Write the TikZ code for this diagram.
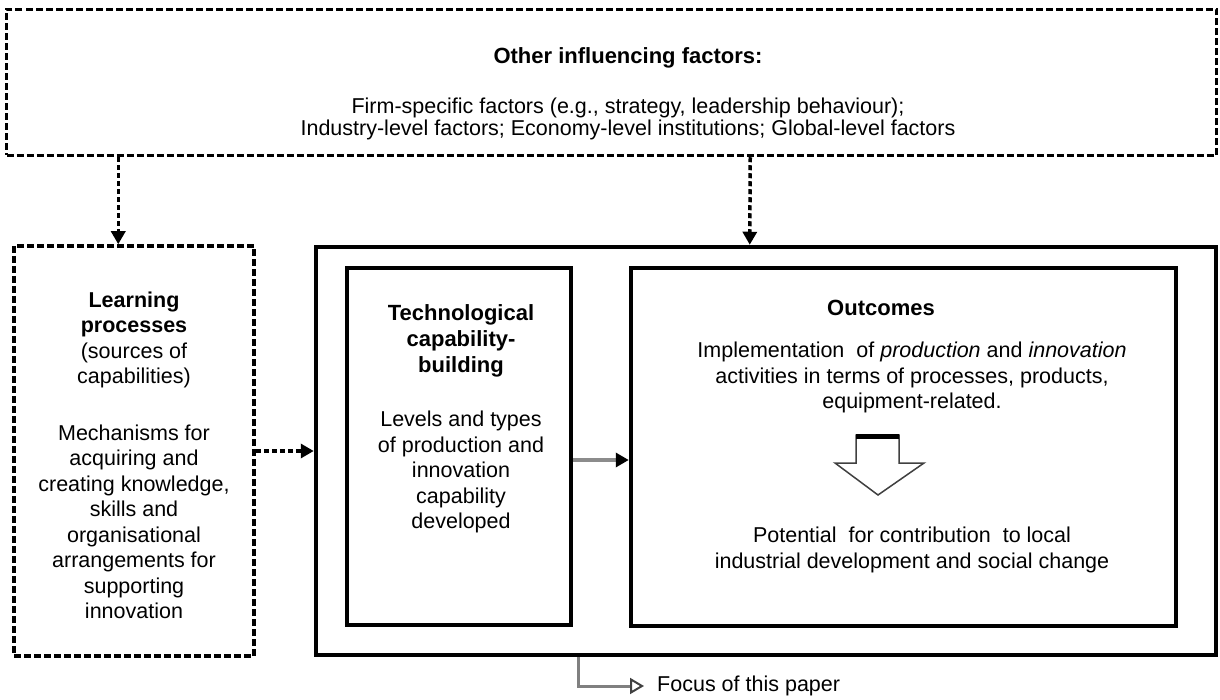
\documentclass[tikz,border=0pt]{standalone}
\usepackage{fontspec}
\setmainfont{Liberation Sans}
\usetikzlibrary{arrows.meta,calc}
\begin{document}
\begin{tikzpicture}[x=1pt,y=-1pt,
  dbox/.style={draw, line width=3.5pt, dash pattern=on 7pt off 3pt, inner sep=0pt},
  sbox/.style={draw, line width=4.5pt, inner sep=0pt},
  txt/.style={align=center, inner sep=0pt, font=\fontsize{21.5}{25.5}\selectfont},
  htxt/.style={align=center, inner sep=0pt, font=\fontsize{22}{25.5}\selectfont\bfseries},
  ttxt/.style={align=center, inner sep=0pt, font=\fontsize{21.5}{22}\selectfont},
  darrow/.style={line width=3.5pt, dash pattern=on 5pt off 3pt, -{Triangle[length=13pt,width=14pt]}},
  garrow/.style={line width=4pt, draw=black!45, -{Triangle[length=13pt,width=14pt,fill=black,color=black]}},
  farrow/.style={line width=3pt, draw=black!50, -{Triangle[open,length=14pt,width=16pt,line width=2pt,color=black!75]}}
]
\useasboundingbox (0,0) rectangle (1220,700);
% boxes
\node[dbox, minimum width=1210pt, minimum height=146pt] (top) at (611.5,82.5) {};
\node[dbox, minimum width=240pt, minimum height=410pt] (left) at (134,451) {};
\node[sbox, minimum width=900pt, minimum height=408pt] (outer) at (766,451) {};
\node[sbox, minimum width=224pt, minimum height=357pt] (tech) at (459,446.5) {};
\node[sbox, minimum width=545pt, minimum height=358pt] (out) at (903.5,447) {};
% top texts
\node[htxt] (toptitle) at (628,58) {Other influencing factors:};
\node[ttxt] (toplines) at (628,119) {Firm-specific factors (e.g., strategy, leadership behaviour);\\Industry-level factors; Economy-level institutions; Global-level factors};
% left texts
\node[txt] (lhead) at (134,340) {\textbf{Learning}\\\textbf{processes}\\(sources of\\capabilities)};
\node[txt] (lbody) at (134,522) {Mechanisms for\\acquiring and\\creating knowledge,\\skills and\\organisational\\arrangements for\\supporting\\innovation};
% tech texts
\node[htxt, font=\fontsize{22}{26}\selectfont\bfseries] (thead) at (461,341) {Technological\\capability-\\building};
\node[txt] (tbody) at (461,472) {Levels and types\\of production and\\innovation\\capability\\developed};
% outcomes texts
\node[htxt] (otitle) at (881,308) {Outcomes};
\node[txt] (oimpl) at (912,377.5) {Implementation\ \ of \textit{production} and \textit{innovation}\\activities in terms of processes, products,\\equipment-related.};
\node[txt, font=\fontsize{21.5}{26}\selectfont] (opot) at (912,550) {Potential\ \ for contribution\ \ to local\\industrial development and social change};
% block arrow
\coordinate (ba) at (878,435);
\draw[line width=1.5pt, draw=black!75, fill=white]
  ($(ba)+(-22,0)$) -- ($(ba)+(21,0)$) -- ($(ba)+(21,28)$) -- ($(ba)+(46,28)$) -- ($(ba)+(0,60)$)
  -- ($(ba)+(-43,28)$) -- ($(ba)+(-22,28)$) -- cycle;
\draw[line width=5pt] ($(ba)+(-22,1.5)$) -- ($(ba)+(21,1.5)$);
% connectors
\draw[darrow] ([xshift=113.5pt]top.south west) -- ([xshift=106pt]left.north west);
\draw[darrow] ([xshift=745.5pt]top.south west) -- ([xshift=436pt]outer.north west);
\draw[darrow] (left.east) -- (left.east -| outer.west);
\draw[garrow] ([yshift=-13.5pt]tech.east) -- ([yshift=-13.5pt]tech.east -| out.west);
\node[anchor=west, inner sep=0pt, inner xsep=13pt, font=\fontsize{21.5}{24}\selectfont] (focus) at (644,686) {Focus of this paper};
\draw[farrow] ([xshift=-188pt]outer.south) |- (focus.west);
\end{tikzpicture}
\end{document}
